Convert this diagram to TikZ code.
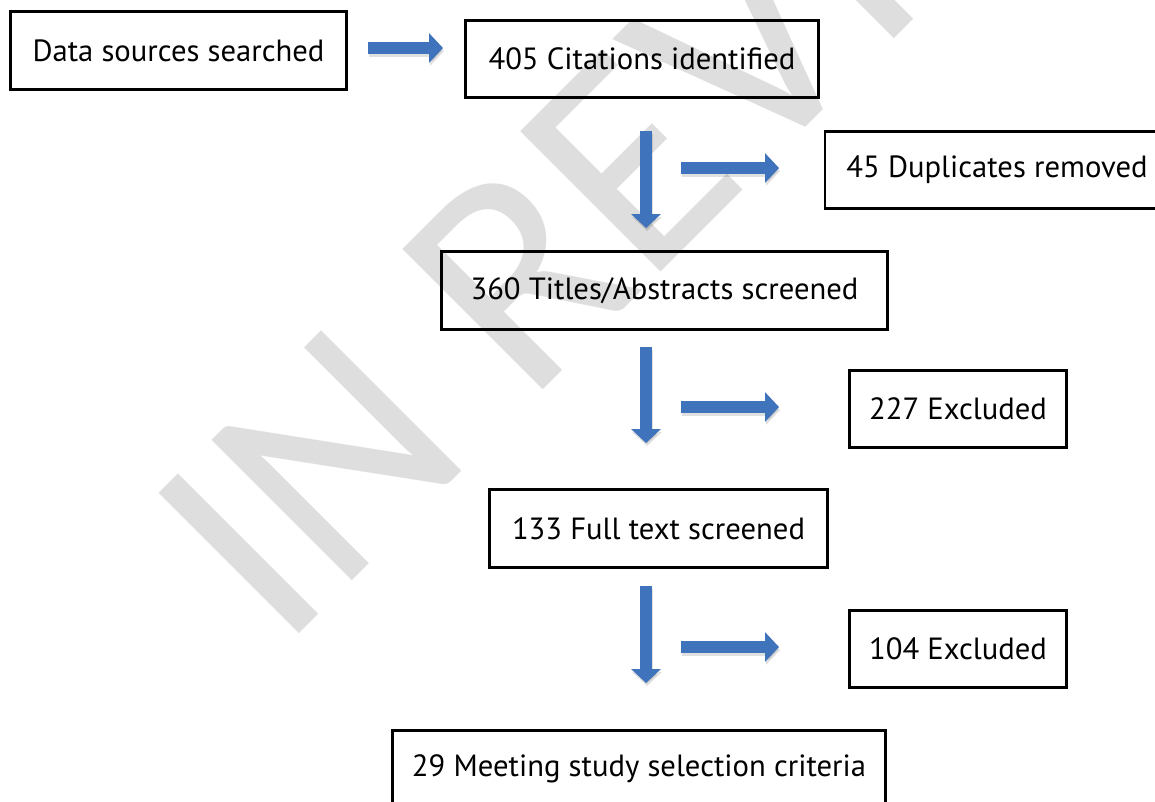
\documentclass[tikz,border=0pt]{standalone}
\usepackage{fontspec}
\setmainfont{PT Sans}
\newfontfamily\wmfamily{Carlito}
\usetikzlibrary{arrows.meta}
\definecolor{arrowblue}{HTML}{3F73BB}
\definecolor{wmgray}{HTML}{DEDEDE}
\begin{document}
\begin{tikzpicture}[x=0.75pt,y=-0.75pt,
  box/.style={draw=black, line width=2.2pt, rectangle, inner sep=0pt,
    font=\fontsize{23pt}{27pt}\selectfont, minimum height=58pt},
  bluearrow/.style={draw=arrowblue, line width=9pt,
    -{Triangle[width=21.75pt,length=10.5pt]}},
  arrowshadow/.style={draw=black, opacity=0.12, line width=9pt,
    -{Triangle[width=21.75pt,length=10.5pt]}},
  watermark/.style={text=wmgray, rotate=45, anchor=base west, inner sep=0pt,
    font=\wmfamily\fontsize{232pt}{232pt}\selectfont}]
\clip (0,0) rectangle (1155,801);
\fill[white] (0,0) rectangle (1155,801);
% watermark
\node[watermark] (wm) at (281,652) {IN REVIEW};
% boxes
\node[box, minimum width=252pt] (data) at (178.5,50.5) {Data sources searched};
\node[box, minimum width=265pt] (cit) at (642,59) {405 Citations identified};
\node[box, minimum width=258pt] (dup) at (997,170) {45 Duplicates removed};
\node[box, minimum width=335pt] (tit) at (664.5,290.5) {360 Titles/Abstracts screened};
\node[box, minimum width=163pt] (ex1) at (958,409) {227 Excluded};
\node[box, minimum width=254pt] (full) at (658.5,528.5) {133 Full text screened};
\node[box, minimum width=163pt] (ex2) at (958,649) {104 Excluded};
\node[box, minimum width=370pt] (fin) at (639,769) {29 Meeting study selection criteria};
% arrow end points
\coordinate (h1s) at (368,48);  \coordinate (h1e) at (443,48);
\coordinate (v1s) at (646,131); \coordinate (v1e) at (646,228);
\coordinate (h2s) at (681,168); \coordinate (h2e) at (779,168);
\coordinate (v2s) at (646,347); \coordinate (v2e) at (646,443);
\coordinate (h3s) at (681,407); \coordinate (h3e) at (779,407);
\coordinate (v3s) at (646,586); \coordinate (v3e) at (646,683);
\coordinate (h4s) at (681,647); \coordinate (h4e) at (779,647);
% shadows
\foreach \s/\e in {h1s/h1e,v1s/v1e,h2s/h2e,v2s/v2e,h3s/h3e,v3s/v3e,h4s/h4e}
  \draw[arrowshadow] ([shift={(1,3)}]\s) -- ([shift={(1,3)}]\e);
% arrows
\foreach \s/\e in {h1s/h1e,v1s/v1e,h2s/h2e,v2s/v2e,h3s/h3e,v3s/v3e,h4s/h4e}
  \draw[bluearrow] (\s) -- (\e);
\end{tikzpicture}
\end{document}
